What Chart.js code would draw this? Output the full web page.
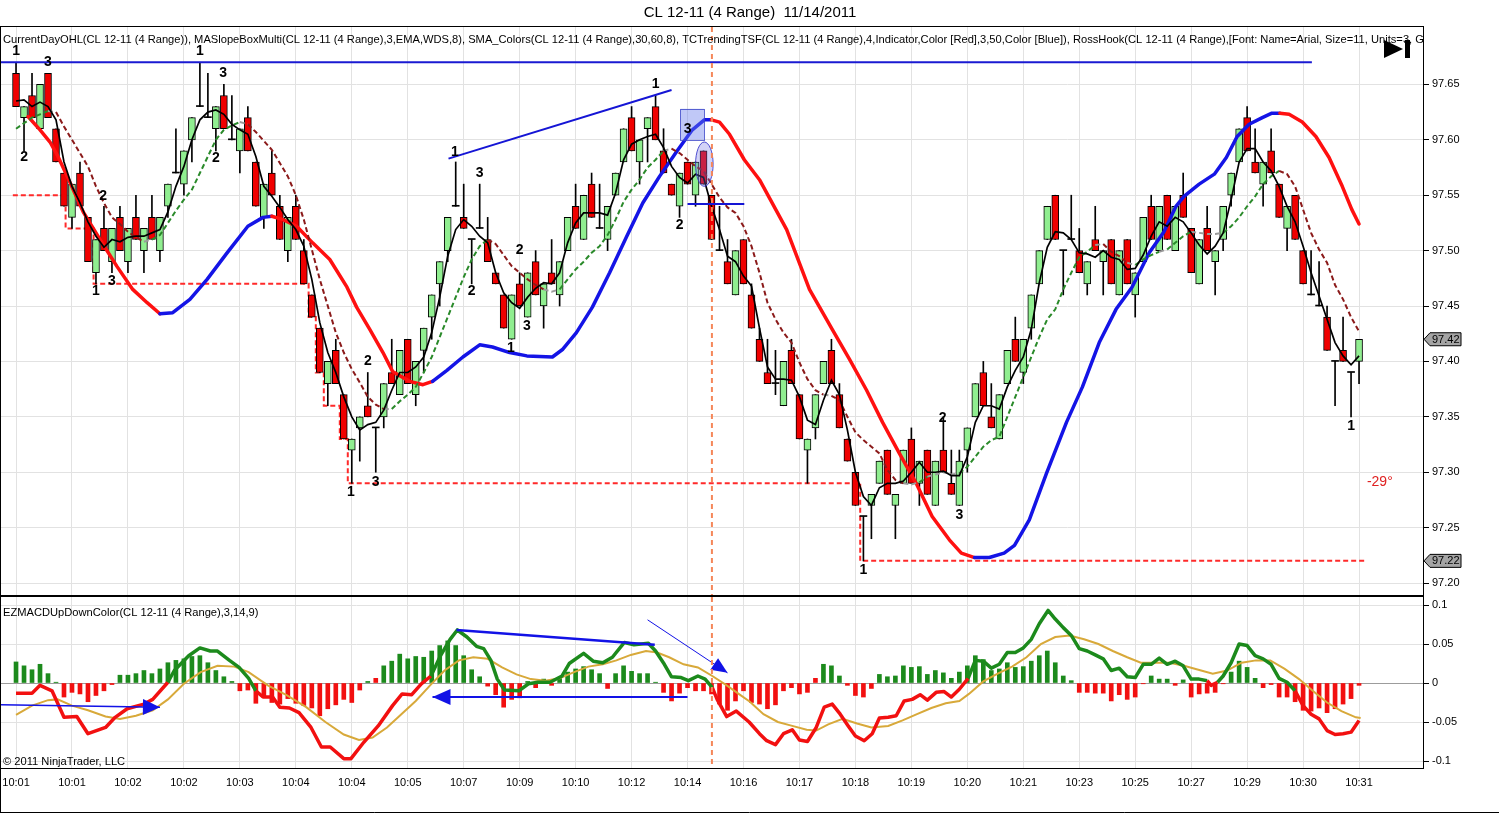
<!DOCTYPE html>
<html><head><meta charset="utf-8">
<script src="https://cdn.jsdelivr.net/npm/chart.js@4.4.1/dist/chart.umd.min.js"></script>
<style>
html,body{margin:0;padding:0;background:#fff;overflow:hidden}
#wrap{position:relative;width:1499px;height:814px;background:#fff}
canvas{position:absolute;left:0}
#cPrice{top:0;width:1499px;height:597px}
#cMacd{top:596px;width:1499px;height:218px}
</style></head><body>
<div id="wrap"><canvas id="cPrice" width="1499" height="597"></canvas><canvas id="cMacd" width="1499" height="218"></canvas></div>
<script>
// ---------------- DATA ----------------
const timeLabels = ["10:01","10:01","10:02","10:02","10:03","10:04","10:04","10:05","10:07","10:09","10:10","10:12","10:14","10:16","10:17","10:18","10:19","10:20","10:21","10:23","10:25","10:27","10:29","10:30","10:31"];
const barsPerLabel = 7;
const priceTicks = [97.20,97.25,97.30,97.35,97.40,97.45,97.50,97.55,97.60,97.65];
const macdTicks = [-0.1,-0.05,0,0.05,0.1];
const macdTickLabels = ["-0.1","-0.05","0","0.05","0.1"];

const opens = [
97.66,97.62,97.64,97.61,97.66,97.61,97.57,97.53,97.57,97.53,
97.48,97.52,97.49,97.53,97.49,97.53,97.50,97.53,97.50,97.54,
97.57,97.56,97.60,97.63,97.62,97.61,97.64,97.60,97.59,97.62,
97.58,97.53,97.57,97.54,97.50,97.54,97.50,97.46,97.43,97.38,
97.41,97.37,97.32,97.34,97.36,97.34,97.35,97.39,97.37,97.42,
97.37,97.41,97.44,97.47,97.50,97.54,97.53,97.51,97.52,97.51,
97.48,97.46,97.42,97.47,97.44,97.49,97.45,97.48,97.46,97.50,
97.54,97.51,97.56,97.52,97.51,97.55,97.58,97.62,97.58,97.61,
97.63,97.59,97.56,97.54,97.58,97.55,97.59,97.55,97.50,97.49,
97.46,97.51,97.46,97.42,97.39,97.38,97.36,97.41,97.37,97.32,
97.34,97.38,97.41,97.37,97.33,97.30,97.26,97.27,97.29,97.32,
97.27,97.29,97.33,97.29,97.32,97.27,97.32,97.29,97.27,97.32,
97.35,97.39,97.35,97.33,97.38,97.42,97.39,97.43,97.47,97.51,
97.55,97.50,97.51,97.50,97.47,97.51,97.49,97.51,97.46,97.51,
97.46,97.49,97.54,97.50,97.55,97.50,97.55,97.52,97.47,97.52,
97.49,97.51,97.55,97.58,97.62,97.58,97.56,97.59,97.56,97.52,
97.55,97.50,97.46,97.45,97.44,97.40,97.41,97.39,97.40];
const highs = [
97.67,97.63,97.66,97.65,97.66,97.61,97.57,97.56,97.58,97.53,
97.51,97.54,97.52,97.54,97.52,97.55,97.52,97.55,97.53,97.56,
97.61,97.59,97.62,97.67,97.66,97.63,97.65,97.64,97.61,97.63,
97.58,97.56,97.59,97.55,97.53,97.55,97.51,97.46,97.43,97.40,
97.42,97.37,97.33,97.35,97.39,97.34,97.38,97.42,97.41,97.42,
97.40,97.43,97.46,97.49,97.53,97.58,97.56,97.51,97.56,97.53,
97.48,97.46,97.46,97.48,97.48,97.50,97.47,97.51,97.49,97.53,
97.56,97.55,97.57,97.56,97.54,97.57,97.61,97.63,97.60,97.62,
97.64,97.61,97.56,97.57,97.58,97.58,97.59,97.55,97.54,97.51,
97.50,97.51,97.47,97.43,97.42,97.41,97.40,97.42,97.37,97.33,
97.37,97.40,97.42,97.38,97.33,97.30,97.26,97.28,97.31,97.32,
97.28,97.32,97.34,97.31,97.32,97.31,97.35,97.32,97.32,97.34,
97.38,97.40,97.38,97.37,97.41,97.44,97.42,97.46,97.50,97.54,
97.55,97.50,97.55,97.52,97.49,97.54,97.50,97.51,97.50,97.51,
97.48,97.53,97.55,97.54,97.55,97.54,97.57,97.52,97.51,97.54,
97.50,97.54,97.57,97.61,97.63,97.61,97.58,97.61,97.56,97.54,
97.55,97.50,97.50,97.49,97.45,97.40,97.44,97.39,97.42];
const lows = [
97.63,97.59,97.62,97.61,97.62,97.58,97.54,97.52,97.54,97.49,
97.47,97.50,97.48,97.50,97.48,97.51,97.48,97.51,97.49,97.53,
97.57,97.55,97.58,97.63,97.62,97.59,97.61,97.60,97.57,97.59,
97.54,97.52,97.55,97.51,97.49,97.51,97.47,97.44,97.39,97.36,
97.38,97.33,97.29,97.31,97.35,97.30,97.34,97.38,97.37,97.38,
97.36,97.39,97.42,97.45,97.49,97.54,97.52,97.47,97.52,97.49,
97.47,97.43,97.42,97.45,97.44,97.46,97.43,97.47,97.45,97.50,
97.52,97.51,97.53,97.52,97.50,97.55,97.58,97.59,97.56,97.58,
97.60,97.57,97.55,97.53,97.56,97.54,97.56,97.51,97.50,97.47,
97.46,97.47,97.43,97.40,97.38,97.37,97.36,97.38,97.33,97.29,
97.33,97.38,97.38,97.34,97.31,97.27,97.22,97.24,97.29,97.28,
97.24,97.29,97.29,97.27,97.28,97.27,97.30,97.28,97.27,97.30,
97.35,97.36,97.34,97.33,97.38,97.40,97.38,97.42,97.47,97.51,
97.51,97.46,97.51,97.48,97.46,97.50,97.46,97.47,97.46,97.47,
97.44,97.49,97.51,97.50,97.51,97.50,97.53,97.48,97.47,97.50,
97.46,97.50,97.54,97.58,97.59,97.57,97.54,97.57,97.53,97.50,
97.51,97.47,97.46,97.45,97.41,97.36,97.40,97.35,97.38];
const closes = [
97.63,97.63,97.62,97.65,97.62,97.58,97.54,97.56,97.54,97.49,
97.51,97.50,97.52,97.50,97.52,97.51,97.52,97.51,97.53,97.56,
97.57,97.59,97.62,97.63,97.62,97.63,97.61,97.60,97.61,97.59,
97.54,97.56,97.55,97.51,97.53,97.51,97.47,97.44,97.39,97.40,
97.38,97.33,97.33,97.35,97.35,97.34,97.38,97.38,97.41,97.38,
97.40,97.43,97.46,97.49,97.53,97.54,97.52,97.51,97.52,97.49,
97.47,97.43,97.46,97.45,97.48,97.46,97.47,97.47,97.49,97.53,
97.52,97.55,97.53,97.52,97.54,97.57,97.61,97.59,97.60,97.62,
97.60,97.57,97.55,97.57,97.56,97.58,97.56,97.51,97.50,97.47,
97.50,97.47,97.43,97.40,97.38,97.38,97.40,97.38,97.33,97.33,
97.37,97.40,97.38,97.34,97.31,97.27,97.26,97.28,97.31,97.28,
97.28,97.32,97.29,97.31,97.28,97.31,97.30,97.28,97.31,97.34,
97.38,97.36,97.34,97.37,97.41,97.40,97.42,97.46,97.50,97.54,
97.51,97.50,97.51,97.48,97.49,97.50,97.50,97.47,97.50,97.47,
97.48,97.53,97.51,97.54,97.51,97.54,97.53,97.48,97.51,97.50,
97.50,97.54,97.57,97.61,97.59,97.57,97.58,97.57,97.53,97.54,
97.51,97.47,97.46,97.45,97.41,97.40,97.40,97.39,97.42];

// fast EMA (black) and slow MA (dashed, coloured by slope), read per bar
const fastMA = [
97.635,97.636,97.630,97.634,97.630,97.618,97.580,97.558,97.543,97.526,
97.513,97.503,97.510,97.508,97.512,97.513,97.513,97.516,97.519,97.535,
97.558,97.576,97.600,97.618,97.625,97.627,97.623,97.614,97.609,97.605,
97.585,97.558,97.549,97.539,97.528,97.519,97.504,97.474,97.435,97.408,
97.390,97.368,97.350,97.338,97.343,97.345,97.356,97.374,97.390,97.390,
97.395,97.404,97.426,97.458,97.495,97.519,97.528,97.522,97.513,97.507,
97.480,97.462,97.453,97.448,97.458,97.466,97.471,97.470,97.480,97.507,
97.525,97.534,97.534,97.534,97.532,97.552,97.582,97.596,97.600,97.603,
97.605,97.593,97.576,97.566,97.561,97.569,97.566,97.540,97.519,97.495,
97.490,97.477,97.468,97.430,97.395,97.384,97.384,97.383,97.368,97.347,
97.343,97.365,97.383,97.370,97.338,97.300,97.278,97.270,97.286,97.290,
97.290,97.292,97.300,97.309,97.300,97.300,97.301,97.297,97.297,97.314,
97.345,97.360,97.360,97.357,97.377,97.392,97.404,97.429,97.471,97.503,
97.517,97.516,97.510,97.498,97.497,97.494,97.500,97.494,97.492,97.483,
97.484,97.496,97.513,97.526,97.522,97.530,97.526,97.516,97.505,97.497,
97.504,97.516,97.546,97.580,97.592,97.592,97.580,97.572,97.558,97.540,
97.526,97.504,97.480,97.459,97.438,97.417,97.405,97.397,97.405];
const slowMA = [
97.610,97.615,97.620,97.623,97.626,97.625,97.612,97.600,97.588,97.576,
97.558,97.543,97.530,97.524,97.517,97.512,97.508,97.510,97.514,97.525,
97.536,97.546,97.555,97.570,97.585,97.600,97.609,97.613,97.616,97.614,
97.607,97.599,97.591,97.579,97.567,97.550,97.528,97.501,97.474,97.450,
97.426,97.408,97.393,97.381,97.368,97.361,97.357,97.357,97.364,97.370,
97.377,97.390,97.404,97.422,97.440,97.458,97.476,97.492,97.504,97.510,
97.506,97.496,97.486,97.480,97.474,97.469,97.465,97.463,97.465,97.474,
97.483,97.490,97.498,97.504,97.514,97.528,97.544,97.555,97.564,97.575,
97.582,97.590,97.592,97.588,97.582,97.576,97.572,97.560,97.548,97.539,
97.534,97.522,97.504,97.480,97.453,97.438,97.426,97.417,97.399,97.384,
97.374,97.370,97.369,97.365,97.350,97.336,97.329,97.323,97.317,97.302,
97.293,97.290,97.289,97.291,97.296,97.298,97.300,97.298,97.299,97.305,
97.314,97.323,97.329,97.332,97.350,97.368,97.386,97.404,97.422,97.438,
97.447,97.465,97.480,97.494,97.499,97.505,97.506,97.499,97.495,97.489,
97.487,97.492,97.496,97.499,97.501,97.507,97.513,97.517,97.516,97.515,
97.515,97.516,97.522,97.530,97.540,97.549,97.560,97.567,97.572,97.569,
97.558,97.537,97.516,97.501,97.489,97.469,97.456,97.440,97.427];

// thick trending TSF line: [bar, price]; red where falling ranges
const tsfLine = [[1.5,97.621],[3,97.609],[4.25,97.598],[5.25,97.585],[6.4,97.567],[8.4,97.535],[10.5,97.510],[12.6,97.486],[14.6,97.465],[16.4,97.453],[18,97.443],[19.6,97.444],[21.75,97.456],[23.9,97.474],[26.4,97.498],[29,97.522],[30.9,97.530],[32,97.531],[33.4,97.528],[35.1,97.522],[37.1,97.507],[39.25,97.492],[41.4,97.467],[42.6,97.449],[44.25,97.429],[45.9,97.408],[47.1,97.391],[49.25,97.382],[50.9,97.379],[52.1,97.382],[53.9,97.392],[55.9,97.404],[58,97.415],[59.6,97.413],[61.75,97.408],[63.9,97.405],[67.1,97.404],[68.4,97.411],[70.1,97.426],[72.1,97.449],[74.25,97.480],[76.4,97.513],[78.4,97.543],[80.5,97.567],[82.6,97.589],[84.6,97.609],[86.1,97.618],[87,97.618],[88,97.616],[89.25,97.605],[91.1,97.582],[93,97.564],[96.4,97.519],[99.25,97.465],[102.1,97.429],[104.25,97.402],[106.4,97.374],[108.4,97.345],[110.5,97.317],[112.6,97.290],[114.6,97.260],[116.75,97.239],[118.25,97.227],[119.9,97.223],[121.75,97.223],[123.6,97.227],[124.9,97.234],[126.75,97.257],[128.9,97.299],[131.4,97.345],[133.4,97.377],[135.5,97.417],[137.6,97.447],[139.6,97.467],[141.75,97.498],[143.6,97.517],[145.1,97.540],[146.1,97.549],[148,97.560],[149.9,97.569],[151.4,97.584],[152.75,97.603],[154.25,97.614],[155.9,97.620],[157.1,97.624],[158.1,97.624],[159.25,97.623],[160.9,97.616],[162.6,97.603],[164.25,97.584],[165.9,97.558],[167.1,97.537],[168,97.524]];
const tsfRed = [[1.5,18.6],[32.3,51.5],[87.2,119.5],[158.6,168]];

// current day low (stepped) and high
const dayLowLine = [[-0.4,97.55],[6.2,97.52],[9.7,97.47],[36.6,97.44],[37.5,97.39],[38.5,97.36],[40.5,97.33],[41.5,97.29],[105.6,97.22],[168.8,97.22]];
const dayHighLine = [[-1.88,97.67],[162.1,97.67]];

// drawn objects on price panel
const trendUp = [[54.1,97.583],[82,97.645]];
const levelLine = [[84,97.542],[91.1,97.542]];
const boxArea = [83.1,86.1,97.628,97.600];       // bar from, bar to, price top, price bottom
const ellipseArea = [86.1,97.578,1.1,0.020];     // centre bar, centre price, radius bars, radius price
const sessionBar = 87.05;
const angleNote = {bar:170.6, price:97.291, text:"-29°"};

// RossHook labels
const hookIdx   = [0,4,1,10.9,10,12,23,25.9,25,44,41.9,45,54.9,58,57,63,61.9,63.9,80,84,83,115.9,106,118,167];
const hookPrice = [97.680,97.670,97.584,97.549,97.463,97.472,97.680,97.660,97.583,97.400,97.282,97.291,97.589,97.570,97.463,97.500,97.412,97.432,97.650,97.610,97.523,97.349,97.212,97.261,97.342];
const hookText  = ["1","3","2","2","1","3","1","3","2","2","1","3","1","3","2","2","1","3","1","3","2","2","1","3","1"];

// MACD panel
const macdHist = [
0.027,0.022,0.017,0.024,0.012,0.001,-0.018,-0.012,-0.014,-0.024,
-0.016,-0.010,-0.002,0.010,0.010,0.012,0.016,0.012,0.018,0.026,
0.029,0.031,0.034,0.035,0.026,0.016,0.008,0.002,-0.010,-0.009,
-0.026,-0.018,-0.025,-0.027,-0.020,-0.026,-0.029,-0.032,-0.042,-0.033,
-0.028,-0.021,-0.025,-0.009,0.002,0.006,0.022,0.028,0.037,0.031,
0.034,0.033,0.041,0.048,0.054,0.048,0.035,0.017,0.008,-0.004,
-0.015,-0.031,-0.021,-0.019,0.002,-0.006,0.005,-0.003,0.006,0.014,
0.018,0.021,0.017,0.012,-0.007,0.012,0.022,0.015,0.012,0.012,
0.001,-0.012,-0.023,-0.013,-0.006,-0.010,-0.010,-0.014,-0.027,-0.035,
-0.023,-0.010,-0.025,-0.027,-0.033,-0.028,-0.010,-0.006,-0.014,-0.012,
0.006,0.024,0.022,0.009,-0.003,-0.016,-0.018,-0.007,0.011,0.008,
0.009,0.022,0.020,0.021,0.011,0.016,0.013,0.006,0.014,0.022,
0.035,0.030,0.016,0.018,0.026,0.020,0.021,0.028,0.035,0.041,
0.026,0.009,0.003,-0.012,-0.012,-0.013,-0.013,-0.023,-0.015,-0.021,
-0.018,-0.001,0.009,0.005,0.005,-0.003,0.004,-0.018,-0.014,-0.013,
-0.012,-0.001,0.014,0.028,0.020,0.006,-0.006,-0.002,-0.018,-0.018,
-0.024,-0.035,-0.036,-0.032,-0.038,-0.033,-0.027,-0.020,-0.003];
const histRedBars = [45,100];   // bars drawn red although just above zero
const macdLine = [[0,-0.013],[2,-0.013],[3,-0.003],[4.5,-0.010],[6,-0.044],[7.6,-0.043],[9,-0.065],[11.2,-0.057],[12.4,-0.044],[13.9,-0.033],[16,-0.027],[17.1,-0.021],[19,0.001],[19.8,0.016],[21.6,0.035],[23,0.045],[24.3,0.041],[25.2,0.041],[26.7,0.029],[27.9,0.020],[29.1,0.006],[30,-0.010],[30.9,-0.018],[32.1,-0.018],[33,-0.031],[34.2,-0.032],[35.4,-0.038],[36.9,-0.057],[38.2,-0.082],[39.3,-0.082],[41,-0.097],[41.9,-0.097],[43.5,-0.076],[45.3,-0.055],[47.1,-0.029],[48.3,-0.014],[49.5,-0.015],[50.7,-0.001],[51.9,0.009],[53.1,0.035],[54.3,0.056],[55.2,0.068],[56.4,0.059],[57.6,0.047],[58.5,0.044],[59.4,0.029],[60.2,0.005],[61.1,-0.009],[62.9,-0.010],[64.1,-0.001],[65.3,0.001],[66.8,0.001],[68.3,0.009],[69.2,0.025],[71,0.038],[72.2,0.028],[73.4,0.026],[74.6,0.033],[76.1,0.052],[77.3,0.049],[79.1,0.051],[80,0.041],[81.1,0.024],[82,0.008],[83.2,0.007],[84.1,0.003],[85.3,0.009],[86.2,0.005],[87.1,-0.006],[87.7,-0.021],[88.9,-0.043],[90.1,-0.036],[91.7,-0.050],[93,-0.065],[93.9,-0.074],[95,-0.079],[96,-0.065],[97.1,-0.060],[98,-0.073],[99,-0.075],[100.1,-0.057],[101.1,-0.031],[102.1,-0.027],[103.1,-0.040],[104.1,-0.055],[105,-0.068],[106.1,-0.074],[107.1,-0.065],[108,-0.045],[109.1,-0.044],[110.1,-0.042],[111.1,-0.023],[112.1,-0.021],[113.1,-0.015],[114,-0.022],[115.1,-0.012],[116.1,-0.011],[117,-0.018],[118,-0.008],[119.1,0.006],[120,0.029],[121,0.028],[122,0.019],[123,0.024],[124,0.039],[125,0.039],[126,0.045],[127,0.056],[128,0.076],[129.1,0.093],[130,0.082],[131,0.071],[132,0.061],[133,0.044],[134,0.041],[135,0.036],[136,0.031],[137,0.016],[138,0.019],[139,0.008],[140,0.007],[141,0.024],[142,0.024],[143,0.032],[144,0.024],[145,0.028],[146,0.022],[147,0.005],[148,0.005],[149,0.003],[149.5,-0.003],[150.3,0.001],[151,0.009],[152,0.026],[153,0.050],[154,0.048],[155,0.035],[156,0.031],[157,0.024],[158,0.006],[159,0.001],[160,-0.010],[161,-0.029],[162,-0.040],[163,-0.046],[164,-0.061],[165,-0.066],[166,-0.065],[167,-0.063],[168,-0.048]];
const macdRed = [[0,19.1],[30,52],[87.1,119.5],[149.2,150.2],[159.8,168]];
const signalLine = [[0,-0.041],[2,-0.029],[4,-0.022],[5.2,-0.021],[7,-0.029],[9,-0.035],[11.2,-0.043],[13,-0.046],[15,-0.042],[17.1,-0.035],[19,-0.021],[21,-0.001],[23.1,0.014],[25.2,0.022],[27.3,0.021],[29.1,0.014],[31.5,-0.003],[33.9,-0.016],[36.3,-0.031],[38.7,-0.050],[41,-0.066],[42.9,-0.073],[44.6,-0.070],[46.4,-0.057],[48.2,-0.040],[50,-0.023],[51.8,-0.003],[53.6,0.016],[55.4,0.029],[57.2,0.033],[59,0.031],[60.8,0.020],[62.6,0.011],[64.4,0.005],[66.2,0.003],[68,0.006],[69.8,0.014],[71.6,0.021],[73.4,0.024],[75.1,0.029],[76.9,0.036],[78.8,0.041],[80.2,0.039],[81.7,0.033],[83.5,0.024],[85.3,0.020],[87.1,0.009],[88.9,-0.003],[90.4,-0.014],[91.8,-0.024],[93.5,-0.040],[95.3,-0.050],[97.1,-0.055],[98.9,-0.060],[100.1,-0.061],[101.6,-0.053],[103.4,-0.046],[105.2,-0.052],[107,-0.057],[109.1,-0.055],[110.9,-0.048],[112.7,-0.040],[114.5,-0.032],[116.3,-0.026],[118,-0.023],[119.2,-0.014],[121,0.002],[122.8,0.012],[124.6,0.021],[126.4,0.033],[128.2,0.050],[130,0.059],[131.8,0.061],[133.6,0.056],[135.4,0.050],[137.2,0.041],[139,0.033],[140.7,0.026],[142.5,0.026],[144.3,0.026],[146.1,0.022],[147.9,0.017],[149.7,0.012],[151.5,0.016],[153.3,0.026],[155.1,0.029],[156.9,0.029],[158.7,0.018],[160.5,0.005],[162.2,-0.010],[164,-0.025],[165.8,-0.036],[167.6,-0.044],[168.2,-0.045]];
// drawn lines on MACD panel (last point = arrow tip where an arrow is drawn)
const macdTrendA = [[-2,-0.028],[18,-0.031]];
const macdTrendB = [[55.1,0.068],[79.9,0.049]];
const macdTrendC = [[84,-0.018],[52.1,-0.018]];
const macdTrendD = [[79,0.081],[89,0.013]];

// ---------------- STYLE / HELPERS ----------------
const FONT = '"Liberation Sans", Arial, Helvetica, sans-serif';
const GRID = '#e2e2e2';
const X_MIN = -1.88, X_MAX = 176.0;
const UP = '#90EE90', DOWN = '#F00000';
const midIn = (a, b, ranges) => { const m = (a + b) / 2; return ranges.some(r => m >= r[0] && m <= r[1]); };
const pts = arr => arr.map(p => ({x: p[0], y: p[1]}));
const setXTicks = s => { s.ticks = timeLabels.map((_, k) => ({value: k * barsPerLabel})); };

function frame(ctx, a) {
  ctx.save();
  ctx.strokeStyle = '#000'; ctx.lineWidth = 1;
  ctx.strokeRect(Math.floor(a.left) - 0.5, Math.floor(a.top) - 0.5, Math.round(a.right - a.left) + 1, Math.round(a.bottom - a.top) + 1);
  ctx.restore();
}
function drawTag(ctx, xl, yp, text) {
  ctx.save();
  ctx.beginPath();
  ctx.moveTo(xl, yp); ctx.lineTo(xl + 6, yp - 6.5); ctx.lineTo(xl + 37, yp - 6.5);
  ctx.lineTo(xl + 37, yp + 6.5); ctx.lineTo(xl + 6, yp + 6.5); ctx.closePath();
  ctx.fillStyle = '#A4A4A4'; ctx.fill();
  ctx.strokeStyle = '#000'; ctx.lineWidth = 1; ctx.stroke();
  ctx.fillStyle = '#000'; ctx.font = '11px ' + FONT; ctx.textAlign = 'left'; ctx.textBaseline = 'middle';
  ctx.fillText(text, xl + 8, yp + 0.5);
  ctx.restore();
}
function sessionLine(ctx, chart) {
  const a = chart.chartArea, x = chart.scales.x.getPixelForValue(sessionBar);
  ctx.save();
  ctx.strokeStyle = '#F5875A'; ctx.lineWidth = 2; ctx.setLineDash([5, 4]);
  ctx.beginPath(); ctx.moveTo(x, a.top); ctx.lineTo(x, a.bottom); ctx.stroke();
  ctx.restore();
}
function arrowHead(ctx, chart, line, len, half) {
  const {x, y} = chart.scales;
  const p0 = line[line.length - 2], p1 = line[line.length - 1];
  const x0 = x.getPixelForValue(p0[0]), y0 = y.getPixelForValue(p0[1]);
  const x1 = x.getPixelForValue(p1[0]), y1 = y.getPixelForValue(p1[1]);
  const ang = Math.atan2(y1 - y0, x1 - x0);
  const bx = x1 - len * Math.cos(ang), by = y1 - len * Math.sin(ang);
  ctx.beginPath();
  ctx.moveTo(x1, y1);
  ctx.lineTo(bx + half * Math.sin(ang), by - half * Math.cos(ang));
  ctx.lineTo(bx - half * Math.sin(ang), by + half * Math.cos(ang));
  ctx.closePath();
  ctx.fillStyle = '#1212E6'; ctx.fill();
}

// ---------------- PRICE CHART ----------------
const priceDeco = {
  id: 'priceDeco',
  afterDatasetsDraw(chart) {
    const {ctx, chartArea: a, scales: {x, y}} = chart;
    ctx.save();
    ctx.beginPath(); ctx.rect(a.left, a.top, a.right - a.left, a.bottom - a.top); ctx.clip();
    const bx0 = x.getPixelForValue(boxArea[0]), bx1 = x.getPixelForValue(boxArea[1]);
    const by0 = y.getPixelForValue(boxArea[2]), by1 = y.getPixelForValue(boxArea[3]);
    ctx.fillStyle = 'rgba(105,125,235,0.42)';
    ctx.fillRect(bx0, by0, bx1 - bx0, by1 - by0);
    ctx.strokeStyle = 'rgba(60,70,200,0.8)'; ctx.lineWidth = 1;
    ctx.strokeRect(Math.round(bx0) + 0.5, Math.round(by0) + 0.5, Math.round(bx1 - bx0), Math.round(by1 - by0));
    const ex = x.getPixelForValue(ellipseArea[0]), ey = y.getPixelForValue(ellipseArea[1]);
    const erx = Math.abs(x.getPixelForValue(ellipseArea[0] + ellipseArea[2]) - ex);
    const ery = Math.abs(y.getPixelForValue(ellipseArea[1] + ellipseArea[3]) - ey);
    ctx.beginPath(); ctx.ellipse(ex, ey, erx, ery, 0, 0, Math.PI * 2);
    ctx.fillStyle = 'rgba(110,110,230,0.3)'; ctx.fill();
    ctx.strokeStyle = 'rgba(50,50,200,0.85)'; ctx.stroke();
    ctx.fillStyle = '#000'; ctx.font = 'bold 14px ' + FONT; ctx.textAlign = 'center'; ctx.textBaseline = 'middle';
    hookIdx.forEach((b, k) => ctx.fillText(hookText[k], x.getPixelForValue(b), y.getPixelForValue(hookPrice[k])));
    ctx.fillStyle = '#E02222'; ctx.font = '14px ' + FONT;
    ctx.fillText(angleNote.text, x.getPixelForValue(angleNote.bar), y.getPixelForValue(angleNote.price));
    ctx.restore();
    sessionLine(ctx, chart);
  },
  afterDraw(chart) {
    const {ctx, chartArea: a, scales: {y}} = chart;
    frame(ctx, a);
    ctx.save();
    ctx.strokeStyle = '#000'; ctx.lineWidth = 1;
    ctx.beginPath(); ctx.moveTo(0.5, a.top - 0.5); ctx.lineTo(0.5, chart.height); ctx.stroke();
    ctx.fillStyle = '#000'; ctx.font = '15px ' + FONT; ctx.textAlign = 'center'; ctx.textBaseline = 'middle';
    ctx.fillText('CL 12-11 (4 Range)  11/14/2011', 750, 13);
    ctx.save();
    ctx.beginPath(); ctx.rect(a.left, a.top, a.right - a.left, a.bottom - a.top); ctx.clip();
    ctx.font = '11.15px ' + FONT; ctx.textAlign = 'left';
    ctx.fillText('CurrentDayOHL(CL 12-11 (4 Range)), MASlopeBoxMulti(CL 12-11 (4 Range),3,EMA,WDS,8), SMA_Colors(CL 12-11 (4 Range),30,60,8), TCTrendingTSF(CL 12-11 (4 Range),4,Indicator,Color [Red],3,50,Color [Blue]), RossHook(CL 12-11 (4 Range),[Font: Name=Arial, Size=11, Units=3, GdiCharSet=1, GdiVerticalFont=False],8)', 3, 40);
    ctx.restore();
    ctx.fillStyle = '#000';
    ctx.beginPath(); ctx.moveTo(1384, 40); ctx.lineTo(1403, 49); ctx.lineTo(1384, 58); ctx.closePath(); ctx.fill();
    ctx.fillRect(1405, 40, 5, 18);
    ctx.restore();
    drawTag(ctx, a.right + 1, y.getPixelForValue(closes[closes.length - 1]), closes[closes.length - 1].toFixed(2));
    const lowLast = dayLowLine[dayLowLine.length - 1][1];
    drawTag(ctx, a.right + 1, y.getPixelForValue(lowLast), lowLast.toFixed(2));
  }
};

new Chart(document.getElementById('cPrice'), {
  type: 'bar',
  data: {
    datasets: [
      {type: 'line', data: pts(dayLowLine), stepped: 'before', borderColor: '#FF2A2A', borderWidth: 2, borderDash: [5, 3], pointRadius: 0, order: 10},
      {type: 'bar', data: lows.map((l, i) => ({x: i, y: [l, highs[i]]})), backgroundColor: '#000', barThickness: 1, grouped: false, order: 9},
      {type: 'bar', data: opens.map((o, i) => ({x: i, y: [o, closes[i]]})),
        backgroundColor: c => { const i = c.dataIndex; return closes[i] > opens[i] ? UP : closes[i] < opens[i] ? DOWN : '#000'; },
        borderColor: '#000', borderWidth: c => (closes[c.dataIndex] === opens[c.dataIndex] ? 0 : 1),
        borderSkipped: false, minBarLength: 1, barThickness: 7, grouped: false, order: 8},
      {type: 'line', data: pts(dayHighLine), borderColor: '#1A1AD2', borderWidth: 2, pointRadius: 0, order: 6},
      {type: 'line', data: pts(tsfLine), borderWidth: 3.5, pointRadius: 0, borderColor: '#1414E6', borderCapStyle: 'round', borderJoinStyle: 'round',
        segment: {borderColor: c => midIn(tsfLine[c.p0DataIndex][0], tsfLine[c.p1DataIndex][0], tsfRed) ? '#FF1010' : '#1414E6'}, order: 5},
      {type: 'line', data: slowMA.map((v, i) => ({x: i, y: v})), borderWidth: 2, borderDash: [5, 3], pointRadius: 0, borderColor: '#2E8B2E',
        segment: {borderColor: c => { const d = slowMA[c.p1DataIndex] - slowMA[c.p0DataIndex]; return d > 0.003 ? '#2A8A2A' : d < -0.003 ? '#8B1A1A' : '#9A9A9A'; }}, order: 4},
      {type: 'line', data: fastMA.map((v, i) => ({x: i, y: v})), borderWidth: 1.7, pointRadius: 0, borderColor: '#000', order: 3},
      {type: 'line', data: pts(trendUp), borderWidth: 2, pointRadius: 0, borderColor: '#1515D5', order: 2},
      {type: 'line', data: pts(levelLine), borderWidth: 2, pointRadius: 0, borderColor: '#1515D5', order: 2}
    ]
  },
  options: {
    responsive: false, animation: false, events: [],
    layout: {padding: {left: 1, right: 0, top: 27, bottom: 2}},
    plugins: {legend: {display: false}, tooltip: {enabled: false}, title: {display: false}},
    scales: {
      x: {type: 'linear', min: X_MIN, max: X_MAX, offset: false, afterBuildTicks: setXTicks,
        ticks: {display: false}, grid: {color: GRID, drawTicks: false, offset: false}, border: {display: false},
        afterFit: s => { s.height = 0; s.paddingLeft = 0; s.paddingRight = 0; }},
      y: {type: 'linear', position: 'right', min: 97.1892, max: 97.7018,
        afterBuildTicks: s => { s.ticks = priceTicks.map(v => ({value: v})); },
        ticks: {color: '#000', font: {family: FONT, size: 11}, padding: 3, callback: v => Number(v).toFixed(2)},
        grid: {color: GRID, tickColor: '#000', tickLength: 6, drawTicks: true},
        border: {display: true, color: '#000', width: 1},
        afterFit: s => { s.width = 76; s.paddingTop = 0; s.paddingBottom = 0; }}
    }
  },
  plugins: [priceDeco]
});

// ---------------- MACD CHART ----------------
const macdDeco = {
  id: 'macdDeco',
  afterDatasetsDraw(chart) {
    const {ctx, chartArea: a} = chart;
    ctx.save();
    ctx.beginPath(); ctx.rect(a.left, a.top, a.right - a.left, a.bottom - a.top); ctx.clip();
    arrowHead(ctx, chart, macdTrendA, 17, 8);
    arrowHead(ctx, chart, macdTrendC, 18, 8);
    arrowHead(ctx, chart, macdTrendD, 16, 7);
    ctx.fillStyle = '#000'; ctx.font = '11.15px ' + FONT; ctx.textAlign = 'left'; ctx.textBaseline = 'middle';
    ctx.fillText('EZMACDUpDownColor(CL 12-11 (4 Range),3,14,9)', 3, a.top + 16);
    ctx.fillText('\u00A9 2011 NinjaTrader, LLC', 3, a.bottom - 6);
    ctx.restore();
    sessionLine(ctx, chart);
  },
  afterDraw(chart) {
    const {ctx, chartArea: a} = chart;
    frame(ctx, a);
    ctx.save();
    ctx.strokeStyle = '#000'; ctx.lineWidth = 1;
    ctx.beginPath(); ctx.moveTo(0.5, 0); ctx.lineTo(0.5, chart.height - 1.5); ctx.stroke();
    ctx.beginPath(); ctx.moveTo(0, chart.height - 1.5); ctx.lineTo(chart.width, chart.height - 1.5); ctx.stroke();
    ctx.restore();
  }
};

new Chart(document.getElementById('cMacd'), {
  type: 'bar',
  data: {
    datasets: [
      {type: 'bar', data: macdHist.map((v, i) => ({x: i, y: v})),
        backgroundColor: c => (macdHist[c.dataIndex] >= 0 && !histRedBars.includes(c.dataIndex) ? '#1C8A1C' : '#F21010'),
        barThickness: 4, grouped: false, order: 5},
      {type: 'line', data: pts(signalLine), borderColor: '#D8A93A', borderWidth: 2, pointRadius: 0, order: 3},
      {type: 'line', data: pts(macdLine), borderWidth: 3.5, pointRadius: 0, borderColor: '#1C8A1C', borderJoinStyle: 'round',
        segment: {borderColor: c => midIn(macdLine[c.p0DataIndex][0], macdLine[c.p1DataIndex][0], macdRed) ? '#F21010' : '#1C8A1C'}, order: 2},
      {type: 'line', data: pts(macdTrendA), borderColor: '#1212E6', borderWidth: 1.5, pointRadius: 0, order: 1},
      {type: 'line', data: pts(macdTrendB), borderColor: '#1212E6', borderWidth: 2.5, pointRadius: 0, order: 1},
      {type: 'line', data: pts(macdTrendC), borderColor: '#1212E6', borderWidth: 2, pointRadius: 0, order: 1},
      {type: 'line', data: pts(macdTrendD), borderColor: '#1212E6', borderWidth: 1, pointRadius: 0, order: 1}
    ]
  },
  options: {
    responsive: false, animation: false, events: [],
    layout: {padding: {left: 1, right: 0, top: 1, bottom: 0}},
    plugins: {legend: {display: false}, tooltip: {enabled: false}, title: {display: false}},
    scales: {
      x: {type: 'linear', min: X_MIN, max: X_MAX, offset: false, afterBuildTicks: setXTicks,
        ticks: {color: '#000', font: {family: FONT, size: 11}, padding: 8, maxRotation: 0, autoSkip: false,
          callback: (v, idx) => timeLabels[idx]},
        grid: {color: GRID, drawTicks: false, offset: false}, border: {display: false},
        afterFit: s => { s.height = 46; s.paddingLeft = 0; s.paddingRight = 0; }},
      y: {type: 'linear', position: 'right', min: -0.10897, max: 0.11026,
        afterBuildTicks: s => { s.ticks = macdTicks.map(v => ({value: v})); },
        ticks: {color: '#000', font: {family: FONT, size: 11}, padding: 3, callback: (v, idx) => macdTickLabels[idx]},
        grid: {color: c => (c.tick && c.tick.value === 0 ? '#9c9c9c' : GRID), tickColor: '#000', tickLength: 6, drawTicks: true},
        border: {display: true, color: '#000', width: 1},
        afterFit: s => { s.width = 76; s.paddingTop = 0; s.paddingBottom = 0; }}
    }
  },
  plugins: [macdDeco]
});
</script>
</body></html>
